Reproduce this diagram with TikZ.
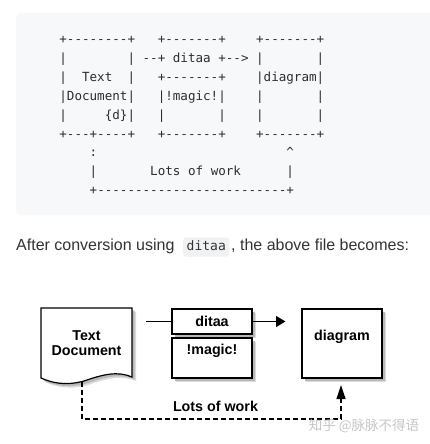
\documentclass[tikz,border=0pt]{standalone}
\usepackage{fontspec}
\setmainfont{Liberation Sans}
\setmonofont{DejaVu Sans Mono}
\newfontfamily\cjk{Noto Sans CJK SC}
\usetikzlibrary{arrows.meta}
\definecolor{codebg}{HTML}{F6F8FA}
\definecolor{codefg}{HTML}{2A2E33}
\definecolor{bodytext}{HTML}{333333}
\definecolor{inlinebg}{HTML}{EFF1F3}
\begin{document}
\frenchspacing
\begin{tikzpicture}[x=1pt,y=-1pt,
  codeline/.style={anchor=base west, inner sep=0pt, font=\fontsize{12.57}{14}\selectfont\ttfamily, text=codefg},
  shade2/.style={preaction={fill=black!14, draw=none, transform canvas={xshift=4pt,yshift=-4pt}},
                 preaction={fill=black!28, draw=none, transform canvas={xshift=2.5pt,yshift=-2.5pt}}},
  box/.style={draw=black, line width=1.2pt, fill=white, inner sep=0pt, shade2},
  lbl/.style={font=\fontsize{14.3}{14.5}\selectfont\bfseries, inner sep=0pt, text=black},
  conn/.style={draw=black, line width=1.2pt},
  dashline/.style={conn, dash pattern=on 5pt off 3pt}
]
\useasboundingbox (0,0) rectangle (430,444);
\fill[white] (0,0) rectangle (430,444);
% code block
\fill[codebg, rounded corners=6pt] (16,13) rectangle (450,215);
\node[codeline] (c1) at (59.2,43.5) {+--------+~~~+-------+~~~~+-------+};
\node[codeline] (c2) at (59.2,62.4) {|~~~~~~~~|~--+~ditaa~+-->~|~~~~~~~|};
\node[codeline] (c3) at (59.2,81.3) {|~~Text~~|~~~+-------+~~~~|diagram|};
\node[codeline] (c4) at (59.2,100.2) {|Document|~~~|!magic!|~~~~|~~~~~~~|};
\node[codeline] (c5) at (59.2,119.1) {|~~~~~\{d\}|~~~|~~~~~~~|~~~~|~~~~~~~|};
\node[codeline] (c6) at (59.2,138.0) {+---+----+~~~+-------+~~~~+-------+};
\node[codeline] (c7) at (89.5,156.9) {:~~~~~~~~~~~~~~~~~~~~~~~~~\textasciicircum};
\node[codeline] (c8) at (89.5,175.8) {|~~~~~~~Lots~of~work~~~~~~|};
\node[codeline] (c9) at (89.5,194.7) {+-------------------------+};
% sentence
\node[anchor=base west, inner sep=0pt, font=\fontsize{16}{19}\selectfont, text=bodytext] (s1) at (16,250.5) {After conversion using};
\node[anchor=base west, fill=inlinebg, rounded corners=3pt, inner xsep=3.5pt, inner ysep=2pt, text height=11pt, text depth=4pt, font=\fontsize{13}{15}\selectfont\ttfamily, text=bodytext] (s2) at (183,250.5) {ditaa};
\node[anchor=base west, inner sep=0pt, font=\fontsize{16}{19}\selectfont, text=bodytext] (s3) at (231,250.5) {, the above file becomes:};
% diagram: text document shape
\path[draw=black, line width=1.2pt, fill=white, shade2]
  (41,308) -- (132,308) -- (132,377)
  .. controls (118,371) and (104,374) .. (84,381)
  .. controls (66,386) and (52,383) .. (41,378) -- cycle;
\node[lbl, align=center] (txt) at (86.5,343) {Text\\Document};
\coordinate (docbot) at (82,382);
% boxes
\node[box, minimum width=80pt, minimum height=25pt] (dit) at (212,321.5) {};
\node[lbl] (ditl) at (212,321.5) {ditaa};
\node[box, minimum width=80pt, minimum height=40pt] (mag) at (212,358) {};
\node[lbl] (magl) at (212,351) {!magic!};
\node[box, minimum width=80pt, minimum height=69pt] (dia) at (342,343.5) {};
\node[lbl] (dial) at (342,337) {diagram};
% connectors
\coordinate (lstart) at (146,321.5);
\coordinate (atip) at (285.5,321.5);
\coordinate (dtip) at (341,385);
\draw[conn] (lstart) -- (dit.west);
\draw[conn, -{Triangle[length=9.5pt,width=11pt]}] (dit.east) -- (atip);
\draw[dashline, -{Triangle[length=14pt,width=9pt]}] (docbot) -- ++(0,37) -| (dtip);
\node[lbl] (work) at (215.5,406) {Lots of work};
% watermark
\node[font=\cjk\fontsize{13.5}{15}\selectfont, text=black!22, inner sep=0pt] (wm) at (364,426) {知乎 @脉脉不得语};
\end{tikzpicture}
\end{document}
